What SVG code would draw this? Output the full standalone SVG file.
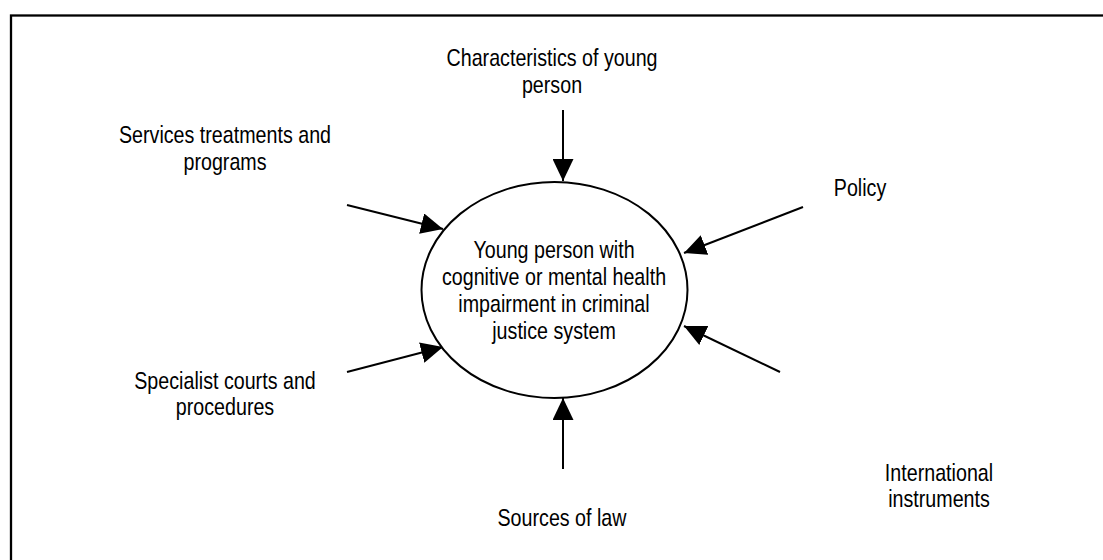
<svg xmlns="http://www.w3.org/2000/svg" width="1103" height="560" viewBox="0 0 1103 560">
<style>
.lbl{font-family:"Liberation Sans",Arial,sans-serif;font-size:24px;fill:#000;text-anchor:middle}
.conn{stroke:#000;stroke-width:2;fill:none}
</style>
<defs>
<marker id="ah" markerUnits="userSpaceOnUse" markerWidth="22" markerHeight="21" refX="22" refY="10.5" orient="auto">
<path d="M0,0 L22,10.5 L0,21 Z" fill="#000"/>
</marker>
</defs>
<rect x="0" y="0" width="1103" height="560" fill="#fff"/>
<rect x="11" y="15.5" width="1200" height="700" fill="none" stroke="#000" stroke-width="2.3"/>
<g id="connectors">
<line class="conn" x1="563" y1="110" x2="563" y2="181" marker-end="url(#ah)"/>
<line class="conn" x1="563" y1="469" x2="563" y2="398" marker-end="url(#ah)"/>
<line class="conn" x1="347" y1="205" x2="443" y2="229" marker-end="url(#ah)"/>
<line class="conn" x1="347" y1="372" x2="443" y2="347" marker-end="url(#ah)"/>
<line class="conn" x1="803" y1="207" x2="684" y2="253" marker-end="url(#ah)"/>
<line class="conn" x1="780" y1="372" x2="684" y2="326" marker-end="url(#ah)"/>
</g>
<g id="center">
<ellipse cx="554.5" cy="290" rx="133" ry="108" fill="#fff" stroke="#000" stroke-width="2"/>
<text class="lbl" transform="translate(554,0) scale(0.82,1)"><tspan x="0" y="258">Young person with</tspan><tspan x="0" y="285">cognitive or mental health</tspan><tspan x="0" y="312">impairment in criminal</tspan><tspan x="0" y="339">justice system</tspan></text>
</g>
<g id="characteristics">
<text class="lbl" transform="translate(552,0) scale(0.82,1)"><tspan x="0" y="66">Characteristics of young</tspan><tspan x="0" y="93">person</tspan></text>
</g>
<g id="services">
<text class="lbl" transform="translate(225,0) scale(0.82,1)"><tspan x="0" y="143">Services treatments and</tspan><tspan x="0" y="170">programs</tspan></text>
</g>
<g id="policy">
<text class="lbl" transform="translate(860,0) scale(0.82,1)"><tspan x="0" y="196">Policy</tspan></text>
</g>
<g id="specialist">
<text class="lbl" transform="translate(225,0) scale(0.82,1)"><tspan x="0" y="389">Specialist courts and</tspan><tspan x="0" y="415">procedures</tspan></text>
</g>
<g id="international">
<text class="lbl" transform="translate(939,0) scale(0.82,1)"><tspan x="0" y="481">International</tspan><tspan x="0" y="507">instruments</tspan></text>
</g>
<g id="sources">
<text class="lbl" transform="translate(562,0) scale(0.82,1)"><tspan x="0" y="526">Sources of law</tspan></text>
</g>
</svg>
